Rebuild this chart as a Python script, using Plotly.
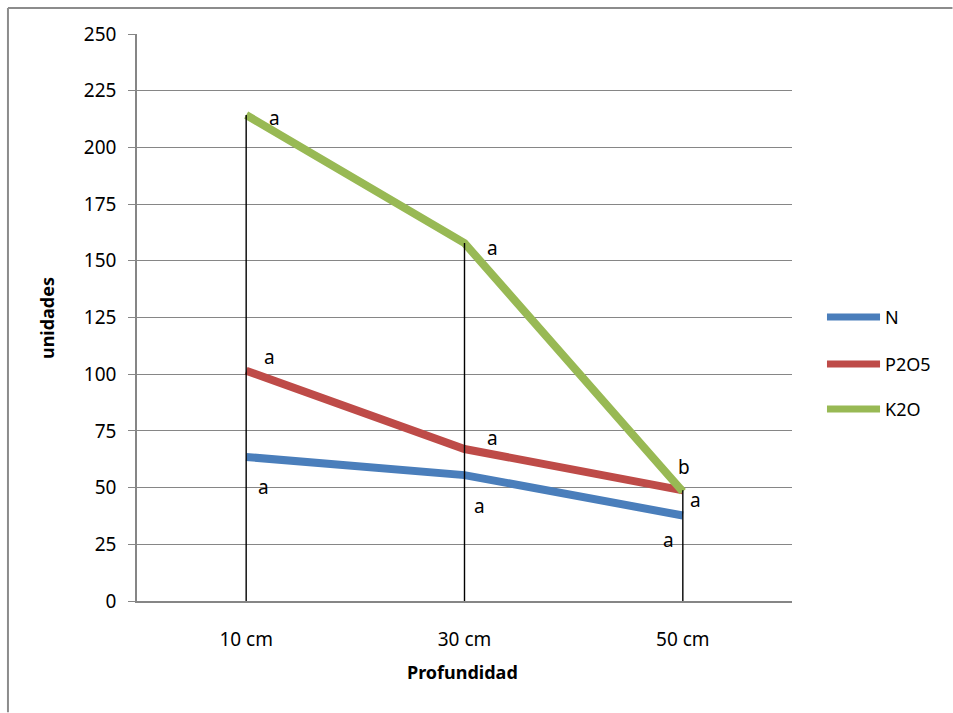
import plotly.graph_objects as go

# Depth categories and nutrient values
depths = ["10 cm", "30 cm", "50 cm"]
n_vals = [63.5, 55.5, 37.7]
p2o5_vals = [101.5, 67.0, 48.8]
k2o_vals = [214.3, 157.8, 48.2]

# Significance letters per series and depth
n_letters = ["a", "a", "a"]
p2o5_letters = ["a", "a", "a"]
k2o_letters = ["a", "a", "b"]

series = [
    ("N", n_vals, n_letters, "#4A7EBB"),
    ("P2O5", p2o5_vals, p2o5_letters, "#BE4B48"),
    ("K2O", k2o_vals, k2o_letters, "#98B954"),
]

# pixel offsets of each letter relative to its point
letter_offsets = {
    "N": [(17, -30), (15, -31), (-14, -24)],
    "P2O5": [(23, 14), (28, 11), (13, -10)],
    "K2O": [(28, -3), (28, -5), (1, 25)],
}

FONT = "Noto Sans"
xi = list(range(len(depths)))

fig = go.Figure()
for name, vals, _, color in series:
    fig.add_trace(go.Scatter(
        x=xi, y=vals, mode="lines", name=name,
        line=dict(color=color, width=8), showlegend=False,
    ))

# drop lines from the highest value at each depth down to zero
tops = [max(v) for v in zip(n_vals, p2o5_vals, k2o_vals)]
for i, top in zip(xi, tops):
    fig.add_trace(go.Scatter(
        x=[i, i], y=[0, top], mode="lines",
        line=dict(color="black", width=1.4), showlegend=False, hoverinfo="skip",
    ))

annotations = []
for name, vals, letters, _ in series:
    for i, (v, lt) in enumerate(zip(vals, letters)):
        dx, dy = letter_offsets[name][i]
        annotations.append(dict(
            x=i, y=v, xref="x", yref="y", text=lt, showarrow=False,
            xshift=dx, yshift=dy, font=dict(family=FONT, size=19, color="black"),
        ))

# axis titles
annotations.append(dict(
    x=-0.1374, y=0.499, xref="paper", yref="paper", text="<b>unidades</b>",
    textangle=-90, showarrow=False, xanchor="center", yanchor="middle",
    font=dict(family=FONT, size=18, color="black"),
))
annotations.append(dict(
    x=0.4977, y=-0.125, xref="paper", yref="paper", text="<b>Profundidad</b>",
    showarrow=False, xanchor="center", yanchor="middle",
    font=dict(family=FONT, size=18, color="black"),
))

# legend drawn as line samples with labels
shapes = []
leg_y = [0.5009, 0.418, 0.3386]
for (name, _, _, color), ly in zip(series, leg_y):
    shapes.append(dict(
        type="line", xref="paper", yref="paper", x0=1.0534, x1=1.1344, y0=ly, y1=ly,
        line=dict(color=color, width=7),
    ))
    annotations.append(dict(
        x=1.139, y=ly, xref="paper", yref="paper", text=name, showarrow=False,
        xanchor="left", yanchor="middle", font=dict(family=FONT, size=18, color="black"),
    ))

# outer chart frame: top and left edges
frame = dict(color="#8C8C8C", width=2)
shapes.append(dict(type="line", xref="paper", yref="paper",
                   x0=-0.197, x1=1.245, y0=1.0459, y1=1.0459, line=frame, layer="below"))
shapes.append(dict(type="line", xref="paper", yref="paper",
                   x0=-0.197, x1=-0.197, y0=-0.196, y1=1.0459, line=frame, layer="below"))

fig.update_layout(
    width=953, height=713,
    margin=dict(l=137, r=161, t=34, b=112),
    paper_bgcolor="white", plot_bgcolor="white",
    font=dict(family=FONT, size=19, color="black"),
    showlegend=False,
    annotations=annotations,
    shapes=shapes,
    xaxis=dict(
        range=[-0.5, 2.5], tickmode="array", tickvals=xi, ticktext=depths,
        showgrid=False, showline=True, linecolor="#868686", linewidth=1.5,
        ticks="", ticklabelstandoff=20, zeroline=False,
        tickfont=dict(family=FONT, size=19, color="black"),
    ),
    yaxis=dict(
        range=[0, 250], dtick=25, tick0=0,
        showgrid=True, gridcolor="#868686", gridwidth=1.2,
        showline=True, linecolor="#868686", linewidth=1.5,
        ticks="outside", ticklen=7, tickcolor="#868686", tickwidth=1.2,
        ticklabelstandoff=8, zeroline=False,
        tickfont=dict(family=FONT, size=19, color="black"),
    ),
)

fig.write_html("out.html")
